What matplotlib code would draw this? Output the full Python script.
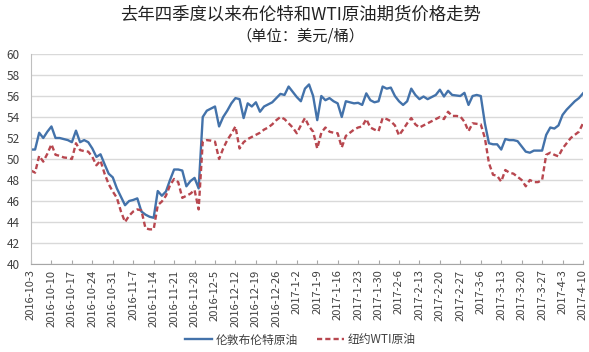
import matplotlib
matplotlib.use("Agg")
import matplotlib.pyplot as plt
import numpy as np

plt.rcParams['font.family'] = ['Noto Sans CJK SC', 'DejaVu Sans']

week_labels = ["2016-10-3", "2016-10-10", "2016-10-17", "2016-10-24", "2016-10-31",
               "2016-11-7", "2016-11-14", "2016-11-21", "2016-11-28", "2016-12-5",
               "2016-12-12", "2016-12-19", "2016-12-26", "2017-1-2", "2017-1-9",
               "2017-1-16", "2017-1-23", "2017-1-30", "2017-2-6", "2017-2-13",
               "2017-2-20", "2017-2-27", "2017-3-6", "2017-3-13", "2017-3-20",
               "2017-3-27", "2017-4-3", "2017-4-10"]

brent = [50.9, 50.9, 52.5, 52.0, 52.6, 53.1, 52.0, 52.0, 51.9, 51.8,
         51.6, 52.7, 51.6, 51.8, 51.6, 51.0, 50.2, 50.45, 49.5, 48.6,
         48.25, 47.2, 46.4, 45.6, 46.0, 46.1, 46.25, 45.0, 44.7, 44.5,
         44.4, 46.95, 46.5, 46.9, 48.0, 49.0, 49.0, 48.9, 47.4, 47.9,
         48.2, 47.2, 54.0, 54.6, 54.8, 55.0, 53.1, 54.0, 54.6, 55.3,
         55.8, 55.7, 53.9, 55.3, 55.0, 55.4, 54.5, 55.0, 55.2, 55.4,
         55.8, 56.2, 56.1, 56.9, 56.4, 55.9, 55.5, 56.7, 57.1, 56.0,
         53.7, 56.0, 55.6, 55.8, 55.5, 55.3, 54.0, 55.5, 55.4, 55.3,
         55.35, 55.15, 56.25, 55.6, 55.4, 55.5, 56.9, 56.7, 56.8, 56.0,
         55.5, 55.15, 55.5, 56.7, 56.1, 55.7, 55.95, 55.7, 55.9, 56.1,
         56.6, 55.95, 56.5, 56.1, 56.05, 56.0, 56.3, 55.15, 56.0, 56.1,
         56.0, 53.4, 51.5, 51.4, 51.4, 50.9, 51.9, 51.8, 51.8, 51.7,
         51.2, 50.7, 50.6, 50.8, 50.8, 50.8, 52.3, 53.0, 52.9, 53.2,
         54.2, 54.7, 55.1, 55.5, 55.8, 56.25]

wti = [48.9, 48.7, 50.3, 49.75, 50.5, 51.4, 50.4, 50.3, 50.15, 50.1,
       50.0, 51.5, 50.85, 50.75, 50.7, 50.2, 49.4, 49.85, 48.6, 47.6,
       46.9, 46.3, 45.0, 44.0, 44.6, 45.0, 45.2, 45.1, 43.4, 43.3,
       43.3, 45.6, 45.95, 46.5, 47.5, 48.1, 47.8, 46.3, 46.5, 46.7,
       47.05, 45.2, 51.65, 51.8, 51.75, 51.65, 50.0, 51.0, 51.8, 52.4,
       53.1, 51.0, 51.6, 51.9, 52.1, 52.3, 52.5, 52.8, 53.0, 53.3,
       53.7, 54.0, 53.8, 53.4, 53.0, 52.45, 53.2, 53.9, 53.1, 52.6,
       51.0, 52.5, 53.0, 52.6, 52.5, 52.45, 51.1, 52.2, 52.5, 52.8,
       53.0, 53.1, 53.8, 53.0, 52.8, 52.65, 53.9, 53.8, 53.6, 53.2,
       52.25, 52.8, 53.4, 53.9, 53.3, 53.0, 53.2, 53.4, 53.6, 53.8,
       54.0, 53.8, 54.5, 54.1, 54.1, 54.05, 53.55, 52.65, 53.4, 53.35,
       53.3, 52.0, 49.6, 48.5, 48.4, 47.85, 48.95, 48.7, 48.6, 48.3,
       48.0, 47.4, 48.0, 47.8, 47.8, 48.0, 50.4, 50.6, 50.4, 50.25,
       51.0, 51.5, 52.0, 52.3, 52.6, 53.4]

series_names = ["伦敦布伦特原油", "纽约WTI原油"]
title_text = "去年四季度以来布伦特和WTI原油期货价格走势"
subtitle_text = "（单位：美元/桶）"

fig = plt.figure(figsize=(5.89, 3.52), dpi=100)
ax = fig.add_axes([31/589, 1-264/352, (583-31)/589, (264-54)/352])

x = np.arange(len(brent))
ax.plot(x, brent, color='#4372AA', lw=1.7, label=series_names[0], solid_joinstyle='round')
ax.plot(x, wti, color='#B8474F', lw=1.7, ls=(0, (2.2, 1.3)), label=series_names[1])

ax.set_xlim(0, len(brent) - 1)
ax.set_ylim(40, 60)
ax.set_yticks(np.arange(40, 61, 2))
ax.yaxis.grid(True, color='#D9D9D9', lw=1.0)
ax.set_axisbelow(True)
tick_pos = np.arange(0, len(brent), 5)
ax.set_xticks(tick_pos)
ax.set_xticklabels(week_labels, rotation=90, fontsize=8, color='#404040')
ax.tick_params(axis='y', length=0, labelsize=8.5, labelcolor='#404040', pad=8)
ax.tick_params(axis='x', direction='in', length=3, color='#A6A6A6', pad=4)
for s in ['top', 'right']:
    ax.spines[s].set_visible(False)
ax.spines['left'].set_color('#BFBFBF')
ax.spines['bottom'].set_color('#A6A6A6')

fig.text(0.51, 1-15/352, title_text, ha='center', va='center', fontsize=12.5, color='#222222')
fig.text(0.51, 1-36/352, subtitle_text, ha='center', va='center', fontsize=11, color='#222222')

fig.legend(loc='center', bbox_to_anchor=(0.51, 1-340/352), ncol=2, frameon=False,
           fontsize=8.5, handlelength=2.3, columnspacing=1.6, handletextpad=0.3,
           labelcolor='#404040')

fig.savefig('out.png', dpi=100)
